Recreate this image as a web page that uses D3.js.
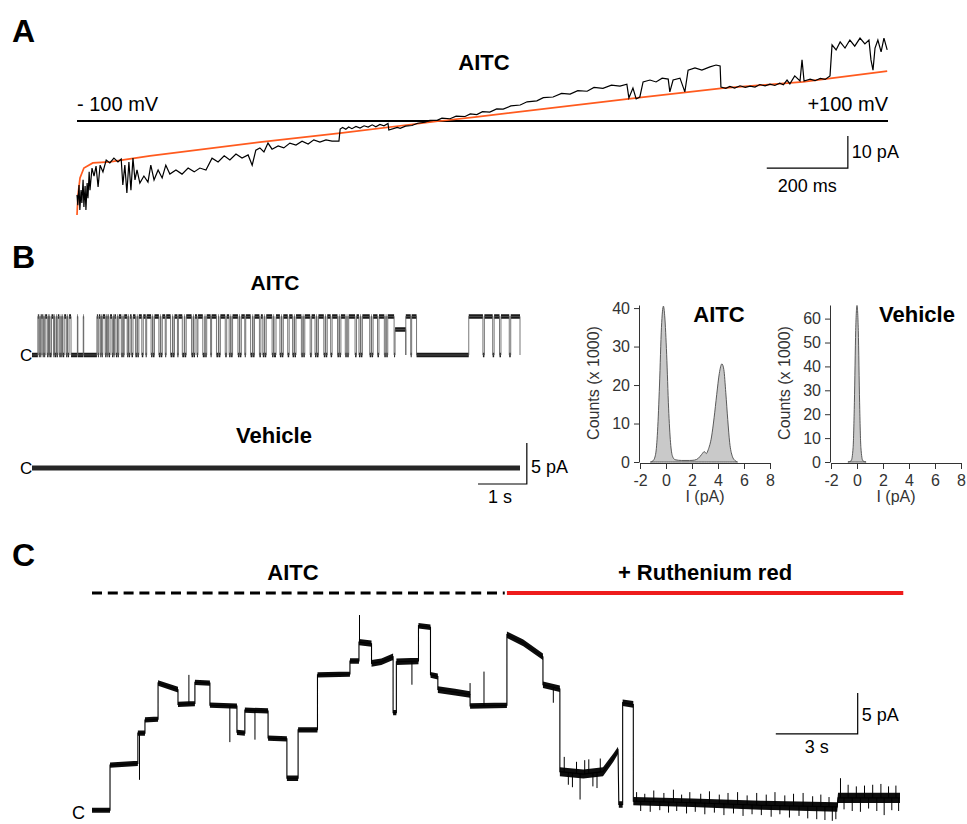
<!DOCTYPE html>
<html>
<head>
<meta charset="UTF-8">
<title>AITC single channel recordings</title>
<script src="https://d3js.org/d3.v7.min.js"></script>
<style>
  body { margin:0; background:#fff; }
  svg { display:block; font-family:"Liberation Sans", Arial, sans-serif; }
</style>
</head>
<body>
<svg id="fig" width="967" height="824"></svg>
<script>
// ---------- panel A : ramp, time (ms) / current (pA)
var rampFit = [[0,-29.4],[2.5,-23.1],[7.4,-17.8],[17,-14.7],[39,-13.1],[81,-12.8],[180,-10.9],[451,-6.6],[649,-3.8],[895,0],[986,1.3],[1381,7.2],[1593,10.3],[1790,12.2],[1998,15.6]];
var rampTrace = [[0,-23.1],[2,-26.3],[5,-20],[7,-27.8],[10,-21.6],[12,-25.6],[15,-18.4],[17,-26.9],[20,-20.3],[22,-27.8],[25,-19.4],[27,-24.1],[30,-15.9],[32,-21.6],[37,-14.7],[42,-17.2],[47,-14.1],[52,-20.6],[57,-13.8],[64,-15.9],[72,-12.2],[81,-13.1],[91,-11.6],[101,-12.8],[109,-11.9],[113,-20],[118,-13.8],[123,-22.5],[128,-12.8],[133,-21.6],[138,-11.6],[143,-18.4],[148,-15.3],[155,-19.4],[165,-17.2],[175,-19.1],[182,-13.8],[190,-18.4],[200,-15.3],[210,-17.8],[219,-13.8],[229,-16.6],[244,-15.3],[259,-16.6],[274,-14.7],[289,-15.9],[303,-14.7],[318,-15.3],[333,-11.6],[348,-12.8],[363,-10.9],[377,-12.2],[392,-10.3],[407,-11.6],[422,-10.6],[432,-13.8],[441,-9.1],[451,-8.4],[461,-9.7],[471,-6.9],[481,-8.8],[496,-7.8],[510,-8.4],[525,-6.9],[540,-7.5],[555,-6.3],[570,-7.2],[584,-5.9],[599,-6.6],[614,-5.9],[629,-6.3],[646,-6.3],
  [649,-2.5],[655,-2.0],[663,-2.6],[670,-1.9],[678,-2.4],[688,-1.7],[698,-2.2],[708,-1.5],[718,-1.9],[728,-1.2],[737,-1.8],[747,-1.1],[757,-1.5],[767,-0.8],[769,-2.8],[780,-2.4],[790,-2.0],[797,-2.3],[810,-1.6],[826,-1.4],[840,-0.7],[858,-0.4],[870,0.2],[888,0.2],[900,0.9],[920,0.7],[935,1.5],[957,1.4],[970,2.2],[986,2.0],[1000,2.9],[1018,2.8],[1035,3.8],[1051,3.7],[1070,4.7],[1093,5.0],[1110,6.0],[1134,6.3],[1150,7.3],[1174,7.5],[1195,8.6],[1216,8.4],[1235,9.5],[1258,9.3],[1275,10.5],[1297,10.2],[1318,11.2],[1339,10.9],[1356,11.5],
  [1361,7.2],[1371,10.3],[1379,6.9],[1388,7.5],[1396,12.2],[1413,12.8],[1428,12.2],[1443,13.4],[1458,13.1],[1462,9.1],[1470,12.8],[1487,13.4],[1499,9.1],[1507,15.9],[1524,16.6],[1541,15.9],[1561,16.9],[1576,17.5],[1586,17.2],
  [1588,10.6],[1600,10.2],[1610,10.8],[1622,10.3],[1635,11.0],[1648,10.5],[1660,10.9],[1672,10.6],[1684,11.4],[1697,11.0],[1709,11.5],[1721,11.1],[1733,11.8],[1742,11.3],[1751,12.8],[1758,11.6],[1770,14.1],[1783,12.5],[1788,19.1],[1793,12.5],[1808,13.1],[1820,12.6],[1833,13.3],[1845,13.0],[1857,14.1],
  [1862,23.8],[1872,22.2],[1882,24.7],[1894,22.8],[1906,25.3],[1918,23.4],[1931,25.9],[1943,24.1],[1953,25.3],[1958,19.1],[1963,15.9],[1968,22.8],[1975,25.3],[1983,21.6],[1990,25.9],[1998,22.2]];

// ---------- panel B : openings (s) of the AITC patch, 10 s sweep
var openLevelB = 4.7;
var openingsB = [[0.12,0.14],[0.16,0.17],[0.19,0.22],[0.24,0.25],[0.27,0.31],[0.33,0.34],[0.36,0.37],[0.40,0.44],[0.46,0.47],[0.50,0.51],[0.53,0.56],[0.59,0.60],[0.62,0.63],[0.66,0.70],[0.72,0.73],[0.76,0.80],
  [0.93,0.94],[1.05,1.06],
  [1.33,1.35],[1.37,1.40],[1.42,1.43],[1.45,1.50],[1.52,1.53],[1.55,1.57],[1.60,1.64],[1.66,1.67],[1.69,1.72],[1.75,1.76],[1.78,1.83],[1.86,1.87],[1.89,1.95],[1.97,1.98],[2.01,2.04],[2.07,2.12],[2.15,2.16],[2.19,2.25],
  [2.28,2.33],[2.35,2.44],[2.47,2.48],[2.51,2.60],[2.63,2.64],[2.67,2.73],[2.75,2.84],[2.88,2.89],[2.92,2.98],[3.00,3.08],[3.12,3.13],[3.16,3.27],[3.30,3.31],[3.34,3.38],[3.40,3.50],[3.54,3.55],[3.58,3.66],[3.68,3.78],[3.82,3.83],[3.86,3.96],[3.99,4.04],[4.07,4.08],[4.11,4.22],[4.25,4.26],[4.29,4.36],[4.38,4.48],[4.52,4.53],[4.56,4.66],[4.69,4.73],[4.76,4.77],[4.80,4.92],[4.95,4.96],
  [5.00,5.08],[5.11,5.12],[5.15,5.24],[5.27,5.34],[5.37,5.38],[5.41,5.52],[5.55,5.56],[5.59,5.70],[5.73,5.80],[5.83,5.84],[5.87,5.98],[6.01,6.02],[6.05,6.12],[6.15,6.26],[6.29,6.30],[6.33,6.42],[6.45,6.46],[6.49,6.62],[6.65,6.70],[6.73,6.74],[6.77,6.92],[6.95,6.96],[6.99,7.08],[7.11,7.22],[7.25,7.26],[7.29,7.42],
  [7.66,7.76],[7.78,7.88],[8.95,9.24],[9.27,9.44],[9.47,9.58],[9.61,9.78],[9.81,10.0]];
var subLevelsB = [[7.44,7.66,3.1]];

// all-points histograms, I (pA) / counts (x1000)
var histAitc = [[-1.2,0],[-1.0,0.3],[-0.8,2],[-0.65,8],[-0.5,20],[-0.35,35],[-0.2,40.5],[-0.1,38],[0.05,28],[0.2,14],[0.35,5],[0.5,1.5],[0.7,0.6],[1.2,0.4],[1.8,0.4],[2.2,0.5],[2.5,1.0],[2.75,2.0],[2.95,2.7],[3.1,2.2],[3.25,3.2],[3.5,6.5],[3.7,11.5],[3.9,17.5],[4.1,23],[4.3,25.5],[4.45,24],[4.6,18],[4.75,11],[4.9,5],[5.1,1.5],[5.3,0.4],[5.5,0]];
var histVehicle = [[-0.7,0],[-0.45,0.5],[-0.3,6],[-0.2,25],[-0.1,55],[0,65.5],[0.1,55],[0.2,25],[0.3,6],[0.45,0.5],[0.7,0]];
var histTicksX = [-2,0,2,4,6,8];
var histTicksAitc = [0,10,20,30,40];
var histTicksVehicle = [0,10,20,30,40,50,60];

// ---------- panel C : time (s), level (pA), noise half width (pA)
var traceC = [[0,0.1,0.3],[0.66,0.1,0.3],[0.66,5.6,0.32],[1.68,5.8,0.32],[1.68,9.5,0.32],[1.94,9.5,0.32],[1.94,11.1,0.32],[2.42,11.2,0.32],
  [2.42,15.6,0.34],[3.15,14.8,0.34],[3.15,13.0,0.32],[3.77,13.1,0.32],[3.77,15.7,0.32],[4.32,15.6,0.32],[4.32,12.9,0.32],[5.31,12.8,0.32],
  [5.31,9.6,0.32],[5.6,9.5,0.32],[5.6,12.3,0.32],[6.45,12.2,0.32],[6.45,8.9,0.32],[7.14,8.8,0.32],[7.14,4.0,0.34],[7.55,4.0,0.34],
  [7.55,9.9,0.32],[8.26,9.9,0.32],[8.26,16.6,0.32],[9.45,16.7,0.32],[9.45,18.3,0.34],[9.78,18.3,0.34],[9.78,20.6,0.38],[10.24,20.4,0.38],
  [10.24,18.0,0.4],[10.6,18.2,0.4],[11.03,18.8,0.4],[11.03,12.0,0.32],[11.15,12.0,0.32],[11.15,18.2,0.4],[11.96,18.3,0.4],
  [11.96,22.6,0.34],[12.4,22.4,0.34],[12.4,16.6,0.36],[12.67,16.4,0.36],[12.67,14.8,0.4],[13.3,14.5,0.4],[13.85,14.2,0.4],
  [13.85,12.8,0.34],[15.2,12.9,0.34],[15.2,21.5,0.4],[15.8,20.5,0.4],[16.52,18.8,0.4],[16.52,15.4,0.4],[17.14,14.9,0.4],
  [17.14,4.8,0.55],[18.0,4.5,0.55],[18.72,4.8,0.55],[19.1,6.5,0.5],[19.27,7.4,0.45],[19.3,0.8,0.4],[19.44,0.8,0.4],
  [19.44,13.2,0.4],[19.83,13.0,0.4],[19.83,1.2,0.5],[22,1.0,0.52],[24.5,0.7,0.55],[27.3,0.5,0.58],[27.33,1.6,0.62],[28.5,1.6,0.62],[29.6,1.6,0.62]];
// brief excursions: time, from, to (pA)
var spikesC = [[1.74,9.5,3.8],[3.55,13.0,16.6],[5.05,12.8,8.4],[5.97,12.3,8.7],[9.8,20.6,23.9],[11.72,18.2,15.4],[13.85,14.2,15.6],[14.36,12.8,17.0],[16.9,15.0,13.2],
  [17.3,4.8,6.6],[17.45,4.7,3.2],[17.6,4.6,2.9],[17.75,4.6,6.0],[17.88,4.6,1.4],[18.05,4.5,6.2],[18.2,4.6,6.3],[18.35,4.6,3.0],[18.5,4.7,2.8],[18.62,4.8,6.4],
  [19.95,1.2,2.3],[20.1,1.2,0.0],[20.25,1.2,2.1],[20.45,1.2,-0.1],[20.58,1.2,2.5],[20.8,1.1,0.1],[20.95,1.1,2.2],[21.12,1.1,-0.2],[21.3,1.1,2.6],[21.42,1.1,0.0],[21.6,1.1,2.0],[21.78,1.0,-0.3],[21.9,1.0,2.3],[22.1,1.0,-0.1],[22.3,1.0,2.1],[22.45,1.0,-0.4],[22.62,0.9,2.4],[22.8,0.9,-0.2],[22.98,0.9,2.0],[23.15,0.9,-0.5],[23.3,0.9,2.2],[23.5,0.8,-0.3],[23.65,0.8,2.3],[23.85,0.8,-0.6],[24.0,0.8,1.9],[24.18,0.8,-0.4],[24.35,0.7,2.2],[24.52,0.7,-0.5],[24.7,0.7,2.0],[24.88,0.7,-0.7],[25.02,0.7,2.3],[25.2,0.7,-0.4],[25.38,0.6,1.9],[25.55,0.6,-0.8],[25.7,0.6,2.1],[25.9,0.6,-0.6],[26.05,0.6,2.2],[26.22,0.6,-0.9],[26.4,0.6,1.8],[26.55,0.5,-1.0],[26.7,0.5,2.0],[26.85,0.5,-1.1],[27.0,0.5,1.7],[27.12,0.5,-1.2],[27.25,0.5,-1.0],
  [27.42,1.6,4.0],[27.55,1.6,0.2],[27.7,1.6,3.2],[27.85,1.6,0.0],[28.0,1.6,3.0],[28.15,1.6,-0.1],[28.3,1.6,3.1],[28.45,1.6,0.3],[28.6,1.6,3.2],[28.75,1.6,0.0],[28.9,1.6,3.3],[29.02,1.6,-0.5],[29.18,1.6,3.0],[29.3,1.6,0.1],[29.45,1.6,3.1],[29.55,1.6,0.0]];

var svg = d3.select("#fig");
svg.append("rect").attr("width", 967).attr("height", 824).attr("fill", "#fff");

function txt(x, y, s, size, bold, anchor, fill) {
  return svg.append("text").attr("x", x).attr("y", y).text(s)
    .attr("font-size", size).attr("font-weight", bold ? "bold" : "normal")
    .attr("text-anchor", anchor || "start").attr("fill", fill || "#000");
}

// panel letters
txt(12, 42, "A", 32, true);
txt(12, 268, "B", 32, true);
txt(12, 566, "C", 32, true);

// ================= A =================
var xA = d3.scaleLinear().domain([0, 2000]).range([77, 888]);
var yA = d3.scaleLinear().domain([0, 10]).range([121, 89]);
var lineA = d3.line().x(function(d){ return xA(d[0]); }).y(function(d){ return yA(d[1]); });

svg.append("line").attr("x1", xA(0)).attr("x2", xA(2000)).attr("y1", yA(0)).attr("y2", yA(0))
  .attr("stroke", "#000").attr("stroke-width", 2);
svg.append("path").datum(rampFit).attr("d", lineA).attr("fill", "none").attr("stroke", "#ff5a1e").attr("stroke-width", 1.7);
svg.append("path").datum(rampTrace).attr("d", lineA).attr("fill", "none").attr("stroke", "#000").attr("stroke-width", 1.2);

txt(77, 111, "- 100 mV", 20);
txt(888, 111, "+100 mV", 20, false, "end");
txt(484, 70, "AITC", 22, true, "middle");

// scale bar 200 ms / 10 pA
svg.append("path").attr("d", "M" + xA(1701) + "," + yA(-14.7) + "H" + xA(1901) + "V" + yA(-4.7))
  .attr("fill", "none").attr("stroke", "#000").attr("stroke-width", 1.2);
txt(xA(1901) + 4, 158, "10 pA", 18);
txt((xA(1701) + xA(1901)) / 2, 192, "200 ms", 18, false, "middle");

// ================= B =================
var xB = d3.scaleLinear().domain([0, 10]).range([32, 520]);
var yB = d3.scaleLinear().domain([0, 5]).range([355, 314]);
var yV = d3.scaleLinear().domain([0, 5]).range([468, 427]);

var eventsB = openingsB.map(function(o){ return [o[0], o[1], openLevelB]; })
  .concat(subLevelsB).sort(function(a, b){ return a[0] - b[0]; });
var stepB = [[0, 0]];
eventsB.forEach(function(o){
  stepB.push([o[0], 0], [o[0], o[2]], [o[1], o[2]], [o[1], 0]);
});
stepB.push([10, 0]);

svg.append("path").datum(stepB)
  .attr("d", d3.area().x(function(d){ return xB(d[0]); })
    .y0(function(d){ return yB(d[1] - 0.27); }).y1(function(d){ return yB(d[1] + 0.27); }))
  .attr("fill", "#1a1a1a");
svg.append("path").datum(stepB)
  .attr("d", d3.line().x(function(d){ return xB(d[0]); }).y(function(d){ return yB(d[1]); }))
  .attr("fill", "none").attr("stroke", "#555").attr("stroke-width", 0.8);

svg.append("path").datum([[0, 0], [10, 0]])
  .attr("d", d3.area().x(function(d){ return xB(d[0]); })
    .y0(function(d){ return yV(d[1] - 0.3); }).y1(function(d){ return yV(d[1] + 0.3); }))
  .attr("fill", "#262626");

txt(20, yB(0) + 6, "C", 17);
txt(20, yV(0) + 6, "C", 17);
txt(275, 290, "AITC", 21, true, "middle");
txt(274, 443, "Vehicle", 22, true, "middle");

// scale bar 1 s / 5 pA
svg.append("path").attr("d", "M" + xB(9.14) + "," + yV(-1.95) + "H" + xB(10.14) + "V" + yV(3.05))
  .attr("fill", "none").attr("stroke", "#000").attr("stroke-width", 1.2);
txt(531, 473, "5 pA", 18);
txt(500, 503, "1 s", 18, false, "middle");

// histograms
function histogram(data, x0, yMax, yTicks, title, titleX) {
  var x = d3.scaleLinear().domain([-2, 8]).range([x0, x0 + 130]);
  var y = d3.scaleLinear().domain([0, yMax]).range([462, 305]);
  var g = svg.append("g");
  g.append("path").datum(data)
    .attr("d", d3.area().curve(d3.curveMonotoneX).x(function(d){ return x(d[0]); }).y0(y(0)).y1(function(d){ return y(d[1]); }))
    .attr("fill", "#c9c9c9").attr("stroke", "#4a4a4a").attr("stroke-width", 0.9);

  var ax = g.append("g").attr("transform", "translate(0," + (y(0) + 1) + ")")
    .call(d3.axisBottom(x).tickValues(histTicksX).tickFormat(function(d){ return String(d); })
      .tickSize(6).tickSizeOuter(0).tickPadding(6));
  var ay = g.append("g").attr("transform", "translate(" + (x0 - 1) + ",0)")
    .call(d3.axisLeft(y).tickValues(yTicks).tickSize(5).tickSizeOuter(0).tickPadding(4));
  [ax, ay].forEach(function(a){
    a.selectAll("path,line").attr("stroke", "#333");
    a.selectAll("text").attr("font-size", 16).attr("fill", "#333")
      .attr("font-family", '"Liberation Sans", Arial, sans-serif');
  });

  txt(x(3), 502, "I (pA)", 16, false, "middle", "#333");
  svg.append("text").attr("transform", "translate(" + (x0 - 41) + ",383) rotate(-90)")
    .attr("text-anchor", "middle").attr("font-size", 16).attr("fill", "#333").text("Counts (x 1000)");
  txt(titleX, 322, title, 22, true, "middle");
}
histogram(histAitc, 640, 40.8, histTicksAitc, "AITC", 719);
histogram(histVehicle, 831, 65.7, histTicksVehicle, "Vehicle", 917);

// ================= C =================
var xC = d3.scaleLinear().domain([0, 29.6]).range([92, 900]);
var yC = d3.scaleLinear().domain([0, 5]).range([811, 770]);

svg.append("line").attr("x1", xC(0)).attr("x2", xC(15.12)).attr("y1", 593).attr("y2", 593)
  .attr("stroke", "#000").attr("stroke-width", 3).attr("stroke-dasharray", "10,5.8");
svg.append("line").attr("x1", xC(15.2)).attr("x2", xC(29.72)).attr("y1", 593).attr("y2", 593)
  .attr("stroke", "#ee1c1c").attr("stroke-width", 4);
txt(293, 580, "AITC", 22, true, "middle");
txt(705, 580, "+ Ruthenium red", 22, true, "middle");

svg.append("path").datum(traceC)
  .attr("d", d3.area().x(function(d){ return xC(d[0]); })
    .y0(function(d){ return yC(d[1] - d[2]); }).y1(function(d){ return yC(d[1] + d[2]); }))
  .attr("fill", "#0d0d0d");
svg.append("path").datum(traceC)
  .attr("d", d3.line().x(function(d){ return xC(d[0]); }).y(function(d){ return yC(d[1]); }))
  .attr("fill", "none").attr("stroke", "#000").attr("stroke-width", 1.1);
svg.selectAll(".spk").data(spikesC).enter().append("line").attr("class", "spk")
  .attr("x1", function(d){ return xC(d[0]); }).attr("x2", function(d){ return xC(d[0]); })
  .attr("y1", function(d){ return yC(d[1]); }).attr("y2", function(d){ return yC(d[2]); })
  .attr("stroke", "#000").attr("stroke-width", 1);

txt(72, 819, "C", 18);

// scale bar 3 s / 5 pA
svg.append("path").attr("d", "M" + xC(25.05) + "," + yC(9.4) + "H" + xC(28.05) + "V" + yC(14.4))
  .attr("fill", "none").attr("stroke", "#000").attr("stroke-width", 1.2);
txt(xC(28.05) + 4, 721, "5 pA", 18);
txt((xC(25.05) + xC(28.05)) / 2, 753, "3 s", 18, false, "middle");
</script>
</body>
</html>
